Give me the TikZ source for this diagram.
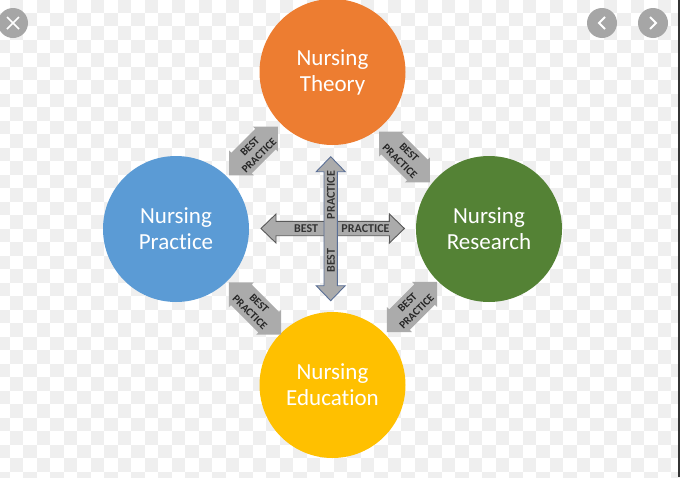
\documentclass[tikz,border=0pt]{standalone}
\usepackage{fontspec}
\setmainfont[Ligatures=NoCommon]{Carlito}
\definecolor{chk}{HTML}{EFEFEF}
\definecolor{arrowgray}{HTML}{ABABAB}
\definecolor{edgeblue}{HTML}{5A6F96}
\definecolor{uibtn}{HTML}{A6A6A6}
\newcommand{\arrowshape}[8]{%
  \path[#8,shift={(#1,#2)},rotate=#3]
   (-#4,0)--(-#4+#7,-#6)--(-#4+#7,-#5)--(#4-#7,-#5)--(#4-#7,-#6)--(#4,0)
   --(#4-#7,#6)--(#4-#7,#5)--(-#4+#7,#5)--(-#4+#7,#6)--cycle;}
\tikzset{
  x=1pt,y=-1pt,
  topic/.style={circle,minimum size=146pt,inner sep=0pt},
  topictext/.style={text=white,font=\fontsize{23}{26}\selectfont,align=center,inner sep=0pt},
  lab/.style={font=\fontsize{12}{13}\selectfont\bfseries,text=black!80,align=center,inner sep=0pt},
  smalllab/.style={font=\fontsize{11}{13}\selectfont\bfseries,text=black!85,align=center,inner sep=0pt},
  uibutton/.style={circle,fill=uibtn,minimum size=30pt,inner sep=0pt},
}
\begin{document}
\begin{tikzpicture}
\useasboundingbox (0,0) rectangle (680,477);
\fill[white] (0,0) rectangle (680,477);
\foreach \i in {0,...,50}{\foreach \j in {0,...,36}{
  \pgfmathparse{int(mod(\i+\j,2))}
  \ifnum\pgfmathresult=1
    \fill[chk] (\i*13.5-4,\j*13.5-1) rectangle +(13.5,13.5);
  \fi}}
\fill[black!80] (678,0) rectangle (680,477);
\node[topic,fill={rgb,255:red,237;green,125;blue,49}] (theory) at (332.5,72) {};
\node[topictext] (theorytext) at (theory) {Nursing\\Theory};
\node[topic,fill={rgb,255:red,91;green,155;blue,213}] (practice) at (176,229) {};
\node[topictext] (practicetext) at (practice) {Nursing\\Practice};
\node[topic,fill={rgb,255:red,84;green,130;blue,53}] (research) at (489,229) {};
\node[topictext] (researchtext) at (research) {Nursing\\Research};
\node[topic,fill={rgb,255:red,255;green,192;blue,0}] (education) at (332.5,385) {};
\node[topictext] (educationtext) at (education) {Nursing\\Education};
% centre cross
\arrowshape{332.7}{228.5}{0}{71.7}{7.2}{14.5}{15}{draw=black!65,fill=arrowgray,line width=.9pt}
\arrowshape{330.7}{228.7}{90}{72}{6.7}{14.5}{15}{draw=edgeblue,fill=arrowgray,line width=.9pt}
\node[lab,rotate=90] (vp) at (331,195) {PRACTICE};
\node[lab,rotate=90] (vb) at (331,260.5) {BEST};
\node[lab] (hb) at (306,228.5) {BEST};
\node[lab] (hp) at (365.5,228.5) {PRACTICE};
% corners
\arrowshape{253.5}{151}{45}{34.5}{14.5}{17.7}{17.7}{fill=arrowgray}
\node[smalllab,rotate=45] (a1) at (254.5,151) {BEST\\PRACTICE};
\arrowshape{404.5}{157}{-45}{36}{14.5}{17.7}{17.7}{fill=arrowgray}
\node[smalllab,rotate=-45] (a2) at (404.5,157) {BEST\\PRACTICE};
\arrowshape{255}{308.5}{-45}{37}{14.5}{17.7}{17.7}{fill=arrowgray}
\node[smalllab,rotate=-45] (a3) at (254.5,308) {BEST\\PRACTICE};
\arrowshape{412}{307}{45}{35.5}{14.5}{17.7}{17.7}{fill=arrowgray}
\node[smalllab,rotate=45] (a4) at (412,307) {BEST\\PRACTICE};
% UI buttons
\node[uibutton] (close) at (13,23) {};
\draw[white,line width=1.6pt] (7,17) -- (19,29) (19,17) -- (7,29);
\node[uibutton] (prev) at (602,23) {};
\draw[white,line width=1.8pt] (605,17) -- (599,23) -- (605,29);
\node[uibutton] (next) at (653,23) {};
\draw[white,line width=1.8pt] (650,17) -- (656,23) -- (650,29);
\end{tikzpicture}
\end{document}
